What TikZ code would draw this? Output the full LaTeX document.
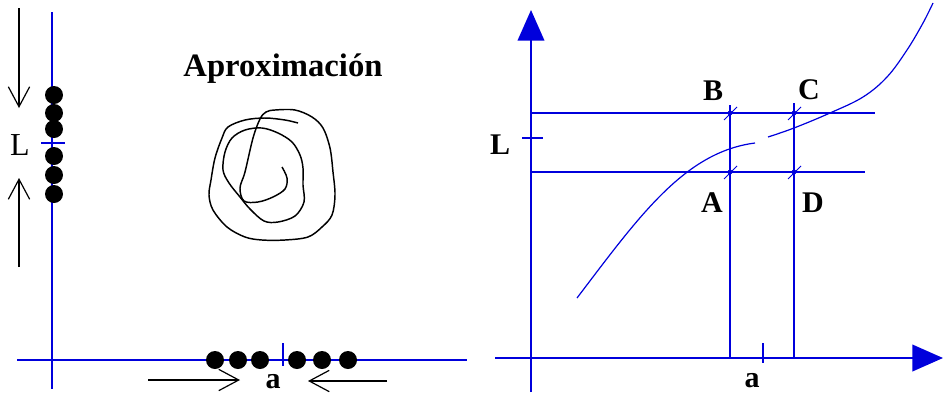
\documentclass[tikz,border=0pt]{standalone}
\usepackage{fontspec}
\setmainfont{Liberation Serif}
\usetikzlibrary{arrows.meta,calc}
\definecolor{ablue}{RGB}{0,0,220}
\begin{document}
\begin{tikzpicture}[x=0.75pt,y=-0.75pt,
  axis/.style={ablue,line width=1.3pt},
  curveline/.style={ablue,line width=0.9pt},
  dotc/.style={circle,fill=black,inner sep=0pt,minimum size=13.5pt},
  barb/.style={-{Straight Barb[length=15pt,width=16pt]},line width=0.9pt},
  lbl/.style={font=\fontsize{22.5}{22.5}\selectfont\bfseries,inner sep=0pt,anchor=base},
  tri/.style={-{Triangle[length=23pt,width=20pt]}},
  xmark/.style={ablue,line width=0.6pt},
  scrib/.style={black,line width=1.1pt,line join=round}
]
\useasboundingbox (0,0) rectangle (945,394);

% ---------------- left panel ----------------
\coordinate (ly0) at (52,12);
\coordinate (ly1) at (52,389);
\coordinate (lx0) at (17,360);
\coordinate (lx1) at (467,360);
\draw[axis] (ly0) -- (ly1);
\draw[axis] (lx0) -- (lx1);
\coordinate (lt0) at (41,143); \coordinate (lt1) at (65,143);
\draw[axis] (lt0) -- (lt1);
\coordinate (at0) at (283,343); \coordinate (at1) at (283,366);
\draw[axis] (at0) -- (at1);

% dots on vertical axis
\foreach \i/\y in {1/95,2/113,3/129,4/156,5/175,6/194}
  \node[dotc] (vd\i) at (54,\y) {};
% dots on horizontal axis
\foreach \i/\x in {1/215,2/238,3/260,4/297,5/322,6/348}
  \node[dotc] (hd\i) at (\x,360) {};

% arrows
\coordinate (da0) at (19,8);   \coordinate (da1) at (19,108);
\coordinate (ua0) at (19,267); \coordinate (ua1) at (19,178);
\coordinate (ra0) at (148,380); \coordinate (ra1) at (240,380);
\coordinate (la0) at (387,381); \coordinate (la1) at (308,381);
\draw[barb] (da0) -- (da1);
\draw[barb] (ua0) -- (ua1);
\draw[barb] (ra0) -- (ra1);
\draw[barb] (la0) -- (la1);

\node[lbl,font=\fontsize{24}{24}\selectfont] (Lleft) at (20,155) {L};
\node[lbl] (aleft) at (273,388) {a};
\node[lbl,font=\fontsize{24.5}{24.5}\selectfont\bfseries] (title) at (283,76) {Aproximación};

% scribble
\draw[scrib] plot[smooth,tension=0.55] coordinates {
 (298,123) (285,120) (265,118) (245,120) (228,127) (222,138) (215,158)
 (211,180) (209,195) (213,210) (227,227) (245,237) (262,240) (285,240)
 (308,237) (322,227) (332,215) (335,195) (333,172) (330,148) (323,128)
 (312,117) (295,110) (275,110) (266,112) (260,119) (253,138) (245,172)
 (240,188) (244,201) (258,202) (273,197) (285,189) (287,178) (282,167)};
\draw[scrib] plot[smooth cycle,tension=0.55] coordinates {
 (223,170) (225,152) (232,138) (245,130) (262,128) (278,133) (292,142)
 (300,155) (303,168) (303,185) (304,202) (295,216) (278,222) (264,221)
 (250,209) (240,197) (229,183)};

% ---------------- right panel ----------------
\coordinate (ry0) at (531,392);
\coordinate (ry1) at (531,10);
\coordinate (rx0) at (495,358);
\coordinate (rx1) at (943,358);
\draw[axis,tri] (ry0) -- (ry1);
\draw[axis,tri] (rx0) -- (rx1);

\coordinate (hu0) at (531,113); \coordinate (hu1) at (875,113);
\coordinate (hl0) at (531,172); \coordinate (hl1) at (865,172);
\draw[axis] (hu0) -- (hu1);
\draw[axis] (hl0) -- (hl1);
\coordinate (v10) at (730,105); \coordinate (v11) at (730,358);
\coordinate (v20) at (794,103); \coordinate (v21) at (794,358);
\draw[axis] (v10) -- (v11);
\draw[axis] (v20) -- (v21);
\coordinate (rl0) at (522,138); \coordinate (rl1) at (543,138);
\draw[axis] (rl0) -- (rl1);
\coordinate (ra0r) at (763,343); \coordinate (ra1r) at (763,363);
\draw[axis] (ra0r) -- (ra1r);

% intersection marks
\foreach \n/\p in {pB/{730,113},pC/{794,113},pA/{730,172},pD/{794,172}}{
  \coordinate (\n) at (\p);
  \draw[xmark] ($(\n)+(-6,7)$) -- ($(\n)+(7,-6)$);
  \fill[ablue] (\n) circle[radius=1.8pt];
}

% curve
\coordinate (c0) at (577,298);
\coordinate (c1) at (755,143);
\coordinate (c2) at (768,137);
\coordinate (c3) at (933,3);
\draw[curveline] (c0) .. controls (640,215) and (685,152) .. (c1);
\draw[curveline] plot[smooth,tension=0.6] coordinates {
 (768,137) (794,128) (830,113) (863,97) (887,77) (907,50) (923,23) (933,3)};

\node[lbl] (Lright) at (500,154) {L};
\node[lbl] (aright) at (752,387) {a};
\node[lbl] (lB) at (713,100) {B};
\node[lbl] (lC) at (809,99) {C};
\node[lbl] (lA) at (712,212) {A};
\node[lbl] (lD) at (813,212) {D};
\end{tikzpicture}
\end{document}
